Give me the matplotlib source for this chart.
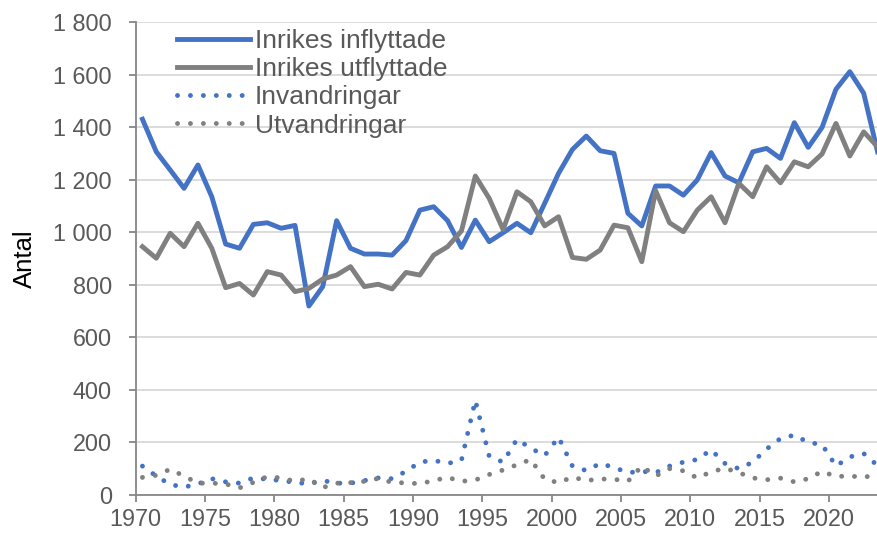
import matplotlib
matplotlib.use('Agg')
from matplotlib import pyplot as plt
import numpy as np

plt.rcParams['font.family'] = ['Liberation Sans', 'DejaVu Sans']

BLUE = '#4472C4'
GRAY = '#808080'
TEXT = '#595959'
GRID = '#D9D9D9'

years = np.arange(1970, 2024)

inrikes_in = [1430, 1306, 1237, 1167, 1256, 1135, 955, 939, 1030, 1036,
              1015, 1026, 719, 793, 1044, 939, 917, 917, 913, 968,
              1084, 1097, 1044, 942, 1046, 964, 998, 1034, 998, 1110,
              1224, 1315, 1366, 1310, 1300, 1072, 1024, 1176, 1176, 1141,
              1199, 1303, 1214, 1188, 1306, 1319, 1281, 1417, 1323, 1399,
              1544, 1611, 1529, 1306]

inrikes_ut = [945, 901, 996, 945, 1034, 939, 789, 805, 761, 850,
              837, 774, 786, 822, 837, 869, 793, 802, 784, 847,
              837, 913, 945, 1005, 1214, 1129, 1010, 1154, 1116, 1024,
              1059, 904, 897, 932, 1027, 1017, 888, 1158, 1036, 1002,
              1084, 1135, 1036, 1186, 1135, 1249, 1188, 1268, 1249, 1298,
              1414, 1290, 1382, 1325]

invandring = [110, 72, 40, 30, 42, 62, 50, 45, 65, 60,
              55, 48, 42, 55, 45, 45, 55, 65, 62, 90,
              125, 132, 120, 132, 360, 148, 125, 212, 178, 150,
              220, 110, 93, 120, 105, 85, 90, 85, 110, 125,
              135, 172, 120, 100, 125, 175, 215, 228, 200, 192,
              110, 145, 158, 112]

utvandring = [67, 75, 98, 72, 45, 45, 42, 27, 48, 70,
              65, 52, 62, 28, 45, 47, 52, 63, 48, 46,
              43, 55, 67, 52, 57, 78, 95, 115, 135, 60,
              47, 68, 55, 61, 60, 52, 110, 72, 100, 92,
              65, 88, 102, 85, 65, 58, 64, 50, 62, 90,
              70, 73, 66, 82]

labels = ['Inrikes inflyttade', 'Inrikes utflyttade', 'Invandringar', 'Utvandringar']

fig = plt.figure(figsize=(8.77, 5.40), dpi=100)
ax = fig.add_axes([135.5 / 877, 45 / 540, 749 / 877, 473 / 540])

x = years + 0.5
DOT = (0, (0.01, 2.65))
ax.plot(x, inrikes_in, color=BLUE, linewidth=3.5, label=labels[0], solid_joinstyle='round')
ax.plot(x, inrikes_ut, color=GRAY, linewidth=3.5, label=labels[1], solid_joinstyle='round')
ax.plot(x, invandring, color=BLUE, linewidth=3.5, linestyle=DOT,
        dash_capstyle='round', label=labels[2])
ax.plot(x, utvandring, color=GRAY, linewidth=3.5, linestyle=DOT,
        dash_capstyle='round', label=labels[3])

ax.set_xlim(1970, 2024)
ax.set_ylim(0, 1800)
ax.set_xticks(np.arange(1970, 2021, 5))
ax.set_yticks(np.arange(0, 1801, 200))
ax.set_yticklabels([f'{v:,}'.replace(',', ' ') for v in range(0, 1801, 200)])
ax.grid(True, axis='y', color=GRID, linewidth=1.3)
ax.set_axisbelow(True)

for side in ['top', 'right']:
    ax.spines[side].set_visible(False)
for side in ['left', 'bottom']:
    ax.spines[side].set_color('#868686')
    ax.spines[side].set_linewidth(1.3)
ax.tick_params(axis='both', colors='#868686', length=5, width=1.3,
               labelsize=16.8, labelcolor=TEXT)
ax.tick_params(axis='x', pad=4)
ax.tick_params(axis='y', pad=12)

ax.set_ylabel('Antal', fontsize=18.5, color='black')
ax.yaxis.set_label_coords(-0.131, 0.5)

leg = ax.legend(loc='upper left', bbox_to_anchor=(177 / 877, 1 - 29 / 540),
                bbox_transform=fig.transFigure, frameon=False, fontsize=19,
                handlelength=2.75, handletextpad=0.2, labelspacing=0.16,
                borderaxespad=0, borderpad=0)
for t in leg.get_texts():
    t.set_color(TEXT)

fig.savefig('out.png', dpi=100)
